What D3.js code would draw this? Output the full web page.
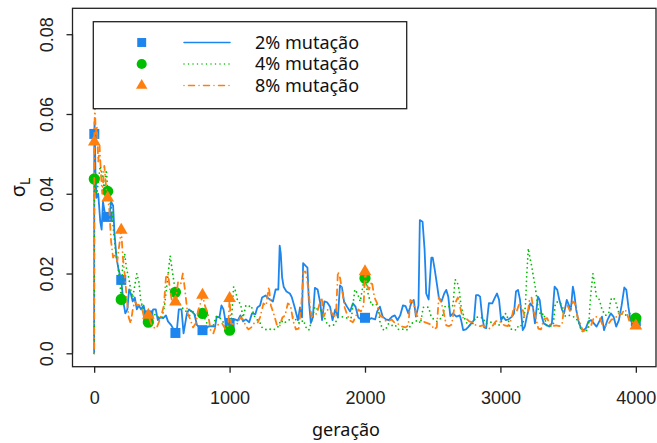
<!DOCTYPE html>
<html>
<head>
<meta charset="utf-8">
<script src="https://cdn.jsdelivr.net/npm/d3@7"></script>
<style>
  html, body { margin: 0; padding: 0; background: #fff; }
  svg { display: block; }
  .tick-label { font-family: "Liberation Sans", Arial, sans-serif; font-size: 18px; fill: #222; }
  .title { font-family: "Noto Sans", "Open Sans", sans-serif; font-size: 18px; fill: #111; }
</style>
</head>
<body>
<svg id="chart" width="657" height="443"></svg>
<script>
// σL over the generations for three mutation rates
const gen2 = [0,1,3,10,17,30,45,55,65,80,100,115,125,140,150,165,180,200,215,230,245,258,270,285,300,315,330,346,365,380,400,420,436,455,470,490,510,530,545,570,600,610,625,645,660,685,700,720,740,760,780,800,820,842,870,893,905,925,940,955,975,990,1000,1020,1040,1060,1080,1100,1120,1145,1165,1190,1205,1225,1240,1265,1285,1300,1320,1340,1360,1370,1378,1388,1400,1420,1445,1460,1480,1505,1520,1535,1543,1560,1575,1585,1600,1615,1630,1650,1670,1683,1700,1720,1742,1760,1780,1800,1815,1830,1845,1867,1890,1910,1930,1950,1970,1990,2000,2020,2045,2075,2090,2110,2130,2155,2175,2200,2220,2240,2260,2280,2300,2320,2340,2360,2376,2395,2405,2425,2440,2446,2452,2470,2490,2500,2515,2530,2545,2565,2585,2600,2615,2630,2650,2675,2700,2710,2725,2745,2760,2785,2805,2820,2835,2850,2865,2880,2895,2915,2940,2960,2975,2990,3005,3020,3040,3060,3085,3100,3115,3130,3145,3165,3180,3195,3220,3240,3255,3277,3290,3305,3320,3345,3360,3380,3400,3420,3435,3455,3470,3490,3510,3520,3535,3545,3560,3575,3595,3610,3630,3650,3670,3690,3710,3735,3750,3765,3790,3815,3835,3855,3875,3895,3915,3930,3945,3960,3980,4000];
const sigma2 = [0,0.055,0.058,0.045,0.039,0.040,0.033,0.031,0.038,0.035,0.0342,0.035,0.038,0.037,0.030,0.024,0.021,0.0184,0.013,0.010,0.011,0.016,0.015,0.013,0.014,0.011,0.012,0.011,0.012,0.0096,0.0095,0.0098,0.011,0.011,0.0083,0.009,0.0088,0.0095,0.008,0.007,0.0051,0.0055,0.011,0.011,0.005,0.010,0.011,0.0105,0.0098,0.007,0.0065,0.0058,0.006,0.0067,0.0068,0.0067,0.0092,0.009,0.012,0.011,0.007,0.0072,0.0076,0.008,0.0085,0.0082,0.0095,0.008,0.0085,0.0078,0.010,0.0098,0.0115,0.012,0.014,0.0145,0.0138,0.0135,0.0130,0.016,0.016,0.027,0.025,0.019,0.0166,0.0155,0.015,0.014,0.0116,0.0083,0.0115,0.009,0.0226,0.022,0.0215,0.0134,0.0076,0.009,0.0164,0.016,0.0125,0.0083,0.013,0.0128,0.0117,0.0083,0.011,0.009,0.017,0.0165,0.013,0.0117,0.0105,0.0125,0.0117,0.009,0.0085,0.008,0.0089,0.0082,0.0088,0.0085,0.0105,0.0117,0.0092,0.0085,0.0083,0.0092,0.0095,0.0083,0.0095,0.012,0.0118,0.010,0.0125,0.0134,0.0092,0.012,0.0334,0.033,0.026,0.021,0.015,0.0135,0.024,0.024,0.021,0.0176,0.014,0.013,0.015,0.0159,0.0142,0.0093,0.010,0.0092,0.0095,0.0083,0.0058,0.006,0.0065,0.0075,0.0083,0.0146,0.0146,0.0142,0.0092,0.0065,0.0063,0.0126,0.0125,0.014,0.015,0.0134,0.0083,0.0092,0.0083,0.0085,0.0092,0.010,0.0155,0.0159,0.0134,0.0058,0.0067,0.0092,0.0125,0.0117,0.0075,0.0142,0.0134,0.0092,0.0075,0.007,0.0067,0.0075,0.0167,0.0159,0.0134,0.0109,0.010,0.0134,0.0117,0.0109,0.0167,0.015,0.0109,0.0083,0.0062,0.0058,0.0062,0.0080,0.0083,0.0075,0.0067,0.0083,0.0092,0.0058,0.0083,0.010,0.0092,0.0067,0.0083,0.012,0.0165,0.0159,0.0117,0.0083,0.0075,0.008];

const gen4 = [0,1,5,10,20,30,45,60,75,90,100,115,130,145,160,175,190,200,210,225,240,255,270,285,300,315,330,345,365,385,400,420,440,460,480,500,520,540,561,580,600,620,640,660,680,700,720,745,770,800,820,840,860,880,900,925,950,975,1000,1015,1030,1045,1060,1080,1100,1120,1140,1160,1180,1200,1220,1240,1265,1285,1310,1330,1355,1380,1400,1420,1445,1470,1500,1520,1545,1565,1585,1605,1630,1650,1675,1700,1725,1750,1775,1800,1825,1850,1875,1900,1925,1945,1965,1985,2000,2015,2030,2050,2070,2095,2110,2130,2150,2175,2200,2220,2245,2270,2295,2320,2345,2370,2395,2410,2430,2450,2470,2490,2510,2530,2550,2570,2590,2610,2630,2650,2665,2680,2695,2710,2730,2760,2790,2820,2845,2870,2890,2910,2930,2955,2980,3000,3020,3040,3055,3075,3095,3115,3135,3150,3170,3185,3195,3206,3218,3230,3245,3260,3280,3300,3320,3340,3365,3390,3405,3425,3445,3470,3490,3510,3535,3555,3580,3600,3625,3650,3665,3683,3695,3710,3730,3750,3775,3800,3815,3835,3855,3875,3895,3920,3945,3970,4000];
const sigma4 = [0,0.0437,0.045,0.041,0.040,0.043,0.047,0.045,0.041,0.046,0.0406,0.038,0.036,0.030,0.025,0.022,0.018,0.0135,0.022,0.025,0.021,0.019,0.016,0.014,0.017,0.020,0.018,0.013,0.011,0.010,0.0078,0.0085,0.010,0.0093,0.009,0.0088,0.012,0.018,0.0245,0.020,0.0153,0.013,0.012,0.011,0.0105,0.009,0.011,0.0095,0.010,0.010,0.0085,0.007,0.0068,0.007,0.0092,0.009,0.008,0.0065,0.0058,0.009,0.0167,0.0155,0.013,0.0125,0.009,0.012,0.0117,0.012,0.0095,0.0085,0.008,0.0065,0.006,0.0058,0.0062,0.006,0.0065,0.0083,0.0075,0.008,0.0085,0.0092,0.008,0.0075,0.0083,0.0065,0.0058,0.008,0.0117,0.011,0.0108,0.009,0.007,0.0068,0.0072,0.009,0.0092,0.009,0.0088,0.009,0.016,0.015,0.013,0.017,0.0188,0.016,0.014,0.012,0.0125,0.012,0.008,0.006,0.0058,0.0075,0.007,0.0072,0.006,0.0062,0.0058,0.006,0.0075,0.008,0.0083,0.0075,0.0115,0.0117,0.0115,0.009,0.0085,0.008,0.0085,0.009,0.0117,0.012,0.0115,0.012,0.0185,0.018,0.016,0.0117,0.0092,0.007,0.007,0.0092,0.0088,0.009,0.0075,0.0075,0.0078,0.0075,0.007,0.0072,0.0092,0.010,0.0088,0.006,0.0062,0.0058,0.007,0.0068,0.008,0.012,0.020,0.0263,0.024,0.022,0.019,0.016,0.011,0.0095,0.010,0.007,0.0068,0.007,0.0125,0.013,0.0125,0.0095,0.0092,0.0095,0.0092,0.009,0.0075,0.0055,0.0055,0.006,0.014,0.020,0.0176,0.014,0.0135,0.011,0.0095,0.010,0.0135,0.014,0.0125,0.010,0.0098,0.0095,0.0100,0.010,0.0088];

const gen8 = [0,1,5,12,20,30,40,50,60,75,90,100,112,125,140,155,170,185,200,212,225,240,255,270,285,300,320,345,365,385,400,420,440,460,480,500,515,530,545,560,580,600,620,640,655,670,690,710,730,750,770,790,800,820,840,860,880,900,920,945,970,990,1000,1010,1035,1060,1080,1100,1120,1140,1160,1180,1205,1225,1250,1270,1290,1305,1330,1350,1370,1390,1410,1430,1450,1470,1490,1510,1530,1545,1560,1575,1590,1605,1625,1645,1665,1680,1695,1715,1740,1760,1785,1800,1815,1830,1850,1870,1890,1910,1930,1950,1970,1990,2000,2015,2030,2050,2070,2090,2110,2130,2150,2175,2195,2215,2235,2255,2275,2300,2320,2335,2350,2365,2380,2400,2420,2440,2465,2490,2510,2530,2545,2565,2580,2600,2620,2640,2665,2686,2700,2720,2745,2770,2795,2820,2850,2870,2895,2920,2945,2965,2990,3010,3030,3055,3080,3100,3120,3140,3160,3180,3200,3215,3230,3245,3260,3280,3300,3320,3345,3365,3385,3410,3435,3455,3470,3495,3515,3535,3550,3570,3590,3610,3630,3650,3670,3690,3715,3735,3755,3775,3800,3820,3845,3870,3895,3915,3930,3955,3980,4000];
const sigma8 = [0,0.053,0.062,0.055,0.057,0.048,0.052,0.045,0.040,0.047,0.041,0.039,0.036,0.028,0.024,0.025,0.023,0.027,0.0309,0.024,0.020,0.014,0.009,0.0075,0.011,0.013,0.012,0.0125,0.0095,0.0092,0.0096,0.0075,0.0065,0.0062,0.008,0.010,0.012,0.019,0.020,0.016,0.012,0.0129,0.018,0.0175,0.020,0.016,0.010,0.0085,0.0065,0.0075,0.011,0.013,0.0146,0.0117,0.010,0.0058,0.005,0.007,0.0072,0.0075,0.006,0.007,0.0138,0.0075,0.0072,0.0075,0.009,0.0085,0.0068,0.006,0.0065,0.0075,0.0075,0.009,0.0125,0.012,0.0167,0.012,0.0095,0.007,0.0068,0.009,0.0095,0.0125,0.012,0.008,0.006,0.0062,0.012,0.0205,0.0205,0.018,0.013,0.0092,0.0095,0.010,0.0125,0.014,0.0092,0.0108,0.011,0.0098,0.009,0.0205,0.019,0.016,0.0115,0.0095,0.0082,0.0078,0.009,0.011,0.0105,0.012,0.0205,0.017,0.016,0.018,0.014,0.0125,0.0095,0.009,0.0082,0.008,0.0085,0.0078,0.0075,0.0072,0.0067,0.0065,0.007,0.0134,0.013,0.0117,0.0095,0.009,0.0085,0.0078,0.0075,0.0072,0.006,0.0065,0.014,0.0125,0.0105,0.007,0.0068,0.0072,0.0125,0.014,0.012,0.009,0.0088,0.008,0.0078,0.007,0.0068,0.007,0.0065,0.0062,0.007,0.008,0.0082,0.0075,0.007,0.0068,0.0085,0.0115,0.0105,0.0125,0.0115,0.009,0.0095,0.0135,0.014,0.0105,0.009,0.0062,0.006,0.0085,0.0088,0.0072,0.0068,0.007,0.0068,0.0072,0.0115,0.012,0.0105,0.013,0.0125,0.009,0.0075,0.0055,0.0058,0.0068,0.007,0.009,0.0092,0.0088,0.007,0.0068,0.0075,0.0085,0.0085,0.010,0.0098,0.011,0.0105,0.0078,0.0078,0.0069];

// generations that carry a symbol on each curve
const markerGens = [1,100,200,400,600,800,1000,2000,4000];

const seriesNames = ["2% mutação","4% mutação","8% mutação"];
const xTicks = [0,1000,2000,3000,4000];
const yTicks = [0,0.02,0.04,0.06,0.08];
const yTickLabels = ["0.0","0.02","0.04","0.06","0.08"];
const xTitle = "geração";

const series = [
  {name: seriesNames[0], gen: gen2, val: sigma2, color: "#1C86EE", dash: null, shape: d3.symbolSquare, size: 100},
  {name: seriesNames[1], gen: gen4, val: sigma4, color: "#00BE00", dash: "0,4.5", shape: d3.symbolCircle, size: 100},
  {name: seriesNames[2], gen: gen8, val: sigma8, color: "#FF7F0E", dash: "0,4.5,6,4.5", shape: d3.symbolTriangle, size: 70}
];

const svg = d3.select("#chart");
const box = {left: 72.5, right: 656, top: 8.3, bottom: 366.7};

const x = d3.scaleLinear().domain([-160, 4160]).range([72.5, 657.5]);
const y = d3.scaleLinear().domain([-0.00336, 0.0865]).range([box.bottom, box.top]);

const plot = svg.append("g");
svg.append("clipPath").attr("id", "plotclip")
  .append("rect").attr("x", box.left).attr("y", box.top)
  .attr("width", box.right - box.left).attr("height", box.bottom - box.top);

const line = d3.line().x(d => x(d[0])).y(d => y(d[1]));

series.forEach(s => {
  const pts = s.gen.map((g, i) => [g, s.val[i]]);
  plot.append("path")
    .attr("clip-path", "url(#plotclip)")
    .attr("d", line(pts))
    .attr("fill", "none")
    .attr("stroke", s.color)
    .attr("stroke-width", 1.8)
    .attr("stroke-linejoin", "round")
    .attr("stroke-linecap", "round")
    .attr("stroke-dasharray", s.dash);
  const mk = markerGens.map(g => [g, s.val[s.gen.indexOf(g)]]);
  plot.selectAll(null).data(mk).enter().append("path")
    .attr("d", d3.symbol().type(s.shape).size(s.size))
    .attr("transform", d => `translate(${x(d[0])},${y(d[1])})`)
    .attr("fill", s.color);
});

// frame
svg.append("rect")
  .attr("x", box.left).attr("y", box.top)
  .attr("width", box.right - box.left).attr("height", box.bottom - box.top)
  .attr("fill", "none").attr("stroke", "#222").attr("stroke-width", 1.3);

// x axis
const xAxis = d3.axisBottom(x).tickValues(xTicks).tickFormat(d3.format("d"))
  .tickSize(6).tickPadding(19).tickSizeOuter(0);
const gx = svg.append("g").attr("transform", `translate(0,${box.bottom})`).call(xAxis);
gx.select(".domain").attr("d", `M${x(0)},0H${x(4000)}`).attr("stroke", "#222").attr("stroke-width", 1.3);
gx.selectAll(".tick line").attr("stroke", "#222").attr("stroke-width", 1.3);
gx.selectAll(".tick text").attr("class", "tick-label").attr("font-size", null).attr("font-family", null);

// y axis
const yAxis = d3.axisLeft(y).tickValues(yTicks).tickFormat((d, i) => yTickLabels[i]).tickSize(6).tickSizeOuter(0);
const gy = svg.append("g").attr("transform", `translate(${box.left},0)`).call(yAxis);
gy.select(".domain").attr("d", `M0,${y(0)}V${y(0.08)}`).attr("stroke", "#222").attr("stroke-width", 1.3);
gy.selectAll(".tick line").attr("stroke", "#222").attr("stroke-width", 1.3);
gy.selectAll(".tick text")
  .attr("class", "tick-label").attr("font-size", null).attr("font-family", null)
  .attr("x", null).attr("dy", null)
  .attr("text-anchor", "middle")
  .attr("transform", "translate(-19.5,0) rotate(-90)");

// axis titles
svg.append("text").attr("class", "title")
  .attr("x", 346).attr("y", 436).attr("text-anchor", "middle").text(xTitle);

const yl = svg.append("text").attr("class", "title")
  .attr("transform", `translate(25,${(box.top + box.bottom) / 2}) rotate(-90)`)
  .attr("text-anchor", "middle");
yl.append("tspan").attr("font-size", 20).text("σ");
yl.append("tspan").attr("font-size", 14).attr("dy", 5).text("L");

// legend
const lg = svg.append("g");
lg.append("rect").attr("x", 93.3).attr("y", 21.7).attr("width", 313.4).attr("height", 87)
  .attr("fill", "#fff").attr("stroke", "#222").attr("stroke-width", 1.3);
series.forEach((s, i) => {
  const ry = 42.5 + i * 21.5;
  lg.append("path")
    .attr("d", d3.symbol().type(s.shape).size(s.size * 0.8))
    .attr("transform", `translate(141.7,${ry})`).attr("fill", s.color);
  lg.append("line").attr("x1", 184).attr("x2", 230).attr("y1", ry).attr("y2", ry)
    .attr("stroke", s.color).attr("stroke-width", 1.5)
    .attr("stroke-linecap", "round").attr("stroke-dasharray", s.dash);
  lg.append("text").attr("class", "title").style("font-size", "18px")
    .attr("x", 255).attr("y", ry).attr("dy", "0.36em").text(s.name);
});
</script>
</body>
</html>
